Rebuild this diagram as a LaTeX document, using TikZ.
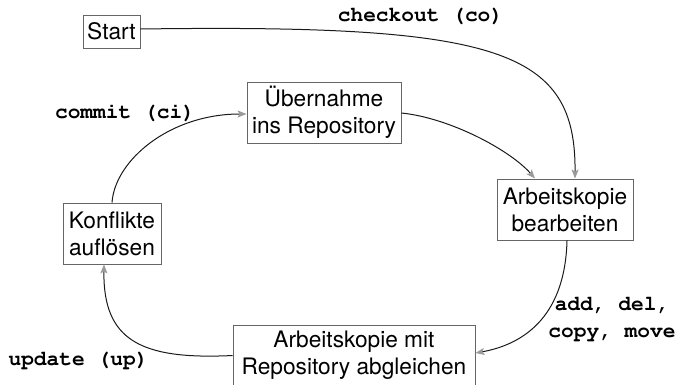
\documentclass[tikz,border=0pt]{standalone}
\usepackage[T1]{fontenc}
\usepackage{fontspec}
\setmainfont{TeX Gyre Heros}
\newcommand{\labelmono}{\fontencoding{T1}\fontfamily{pcr}\fontseries{b}\selectfont}
\usetikzlibrary{arrows.meta}
\definecolor{boxline}{HTML}{666666}
\definecolor{edgeline}{HTML}{1A1A1A}
\definecolor{tipgray}{HTML}{9A9A9A}
\tikzset{
  box/.style={draw=boxline, line width=0.9pt, inner sep=0pt, align=center,
    font=\fontsize{22.7pt}{27pt}\selectfont, text=black},
  cmd/.style={inner sep=0pt, align=center, font=\labelmono\fontsize{21.2pt}{27pt}\selectfont},
  flow/.style={draw=edgeline, line width=1pt,
    -{Stealth[length=9pt,width=7pt,inset=2pt,fill=tipgray,color=tipgray]}}
}
\begin{document}
\begin{tikzpicture}[x=1pt,y=-1pt]
\useasboundingbox (0,0) rectangle (679,384);
\node[box, minimum width=57pt, minimum height=33pt] (start) at (111.5,31.5) {Start};
\node[box, minimum width=154pt, minimum height=61pt] (ueber) at (324,112.5) {Übernahme\\ins Repository};
\node[box, minimum width=136pt, minimum height=61pt] (bearb) at (565,209.5) {Arbeitskopie\\bearbeiten};
\node[box, minimum width=98pt, minimum height=61pt] (konfl) at (112,233.5) {Konflikte\\auflösen};
\node[box, minimum width=242pt, minimum height=61pt] (abgl) at (354,355.5) {Arbeitskopie mit\\Repository abgleichen};

\node[cmd] (lco) at (420.5,16) {checkout (co)};
\node[cmd] (lci) at (125,113) {commit (ci)};
\node[cmd] (lup) at (78.5,360) {update (up)};
\node[cmd] (ladd) at (612,318.5) {add, del,\\copy, move};

\coordinate (bearbT1) at (575,178.5);
\coordinate (bearbT2) at (535,178.5);
\draw[flow] (start.east |- 0,29) .. controls (500,24) and (576,50) .. (bearbT1);
\draw[flow] (ueber.east |- 0,113) .. controls (450,118) and (510,150) .. (bearbT2);
\draw[flow] (bearb.south -| 567,0) .. controls (565,320) and (520,345) .. (abgl.east |- 0,353);
\draw[flow] (abgl.west) .. controls (140,360) and (103,340) .. (konfl.south -| 104,0);
\draw[flow] (konfl.north) .. controls (115,160) and (170,114) .. (ueber.west |- 0,114);
\end{tikzpicture}
\end{document}
